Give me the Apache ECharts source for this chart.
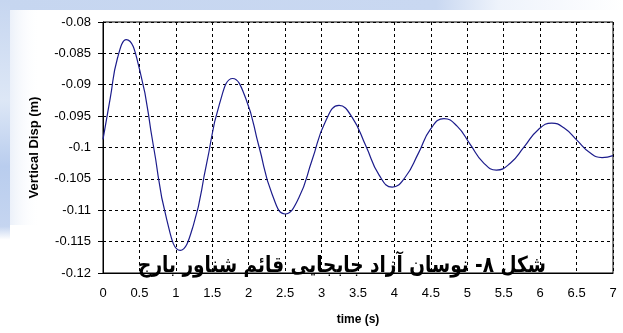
<!DOCTYPE html>
<html>
<head>
<meta charset="utf-8">
<script src="https://cdn.jsdelivr.net/npm/echarts@6/dist/echarts.min.js"></script>
<style>
  html, body { margin: 0; padding: 0; background: #ffffff; }
  #chart { width: 623px; height: 333px; }
</style>
</head>
<body>
<div id="chart"></div>
<script>
// Free vertical oscillation of a floating barge: time (s) vs vertical displacement (m).
// Samples at each crest/trough and at the quarter points between them.
const timeSec = [
  0, 0.1, 0.2, 0.32,
  0.505, 0.69, 0.875, 1.06,
  1.24, 1.42, 1.60, 1.78,
  1.96, 2.14, 2.32, 2.50,
  2.685, 2.87, 3.055, 3.24,
  3.42, 3.61, 3.79, 3.97,
  4.15, 4.33, 4.50, 4.68,
  4.86, 5.04, 5.22, 5.40,
  5.59, 5.78, 5.97, 6.16,
  6.33, 6.51, 6.68, 6.85, 7.0
];
const verticalDisp = [
  -0.0987, -0.0921, -0.0857, -0.0828,
  -0.0877, -0.0996, -0.1115, -0.1164,
  -0.1124, -0.1027, -0.0930, -0.0890,
  -0.0922, -0.0998, -0.1074, -0.1106,
  -0.1081, -0.1020, -0.0958, -0.0933,
  -0.0952, -0.0998, -0.1044, -0.1063,
  -0.1047, -0.1009, -0.0970, -0.0954,
  -0.0966, -0.0995, -0.1024, -0.1036,
  -0.1025, -0.0999, -0.0972, -0.0961,
  -0.0969, -0.0989, -0.1008, -0.1016, -0.1013
];
const xRange = [0, 7];
const yRange = [-0.12, -0.08];
const xTitle = 'time (s)';
const yTitle = 'Vertical Disp (m)';
const caption = 'شکل ۸- نوسان آزاد جابجایی قائم شناور بارج';

const series = timeSec.map((t, i) => [t, verticalDisp[i]]);

const chart = echarts.init(document.getElementById('chart'), null, { renderer: 'canvas' });
const sans = '"Liberation Sans", Arial, sans-serif';

chart.setOption({
  animation: false,
  backgroundColor: '#ffffff',
  grid: {
    left: 103, top: 22, right: 10, bottom: 60,
    show: true, borderColor: '#000', borderWidth: 1, backgroundColor: 'transparent'
  },
  xAxis: {
    type: 'value',
    min: xRange[0], max: xRange[1], interval: 0.5,
    name: xTitle, nameLocation: 'middle', nameGap: 41,
    nameTextStyle: { fontFamily: sans, fontWeight: 'bold', fontSize: 12, color: '#000' },
    axisLine: { onZero: false, lineStyle: { color: '#000', width: 1 } },
    axisTick: { show: false },
    axisLabel: { fontFamily: sans, fontSize: 13, color: '#000', margin: 14 },
    splitLine: { show: true, lineStyle: { color: '#000', type: [3, 3], width: 1 } }
  },
  yAxis: {
    type: 'value',
    min: yRange[0], max: yRange[1], interval: 0.005,
    name: yTitle, nameLocation: 'middle', nameGap: 62, nameRotate: 90,
    nameTextStyle: { fontFamily: sans, fontWeight: 'bold', fontSize: 13, color: '#000' },
    axisLine: { onZero: false, lineStyle: { color: '#000', width: 1 } },
    axisTick: { show: true, inside: false, length: 5, lineStyle: { color: '#000' } },
    axisLabel: { fontFamily: sans, fontSize: 13, color: '#000', margin: 12 },
    splitLine: { show: true, lineStyle: { color: '#000', type: [3, 3], width: 1 } }
  },
  graphic: [
    // slide background strips
    {
      type: 'rect', z: -10, silent: true,
      shape: { x: 0, y: 0, width: 623, height: 10 },
      style: { fill: new echarts.graphic.LinearGradient(0, 0, 1, 0, [
        { offset: 0, color: '#c6d6f0' }, { offset: 0.7, color: '#c9d8f1' }, { offset: 0.8, color: '#eef3fb' }, { offset: 1, color: '#ffffff' }
      ]) }
    },
    {
      type: 'rect', z: -10, silent: true,
      shape: { x: 0, y: 0, width: 10, height: 333 },
      style: { fill: new echarts.graphic.LinearGradient(0, 0, 0, 1, [
        { offset: 0, color: '#c6d6f0' }, { offset: 0.3, color: '#dde7f6' }, { offset: 0.5, color: '#b9cdee' }, { offset: 0.68, color: '#c5d5f0' }, { offset: 0.72, color: '#ffffff' }, { offset: 1, color: '#ffffff' }
      ]) }
    },
    {
      type: 'rect', z: -10, silent: true,
      shape: { x: 10, y: 10, width: 30, height: 215 },
      style: { fill: new echarts.graphic.LinearGradient(0, 0, 1, 0, [
        { offset: 0, color: 'rgba(200,215,240,0.35)' }, { offset: 1, color: 'rgba(255,255,255,0)' }
      ]) }
    },
    // figure caption over the lower plot area
    {
      type: 'text', z: 100, silent: true,
      x: 342, y: 266, scaleX: 0.84,
      style: {
        text: caption,
        x: 0, y: 0,
        align: 'center', verticalAlign: 'middle',
        fontFamily: '"DejaVu Sans", sans-serif',
        fontWeight: 'bold', fontSize: 22,
        fill: '#000'
      }
    }
  ],
  series: [{
    type: 'line',
    data: series,
    smooth: true,
    showSymbol: false,
    lineStyle: { color: '#1c1c8c', width: 1.2 },
    z: 5
  }]
});
</script>
</body>
</html>
